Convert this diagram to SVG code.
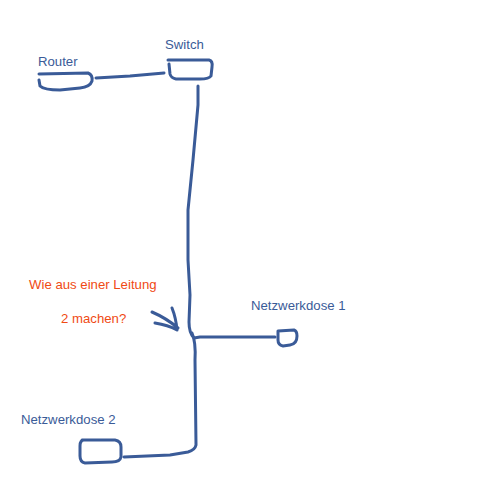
<svg xmlns="http://www.w3.org/2000/svg" width="500" height="500" viewBox="0 0 500 500">
<style>
.s{fill:none;stroke:#3a5b98;stroke-width:3;stroke-linecap:round;stroke-linejoin:round}
.t{font-family:"Liberation Sans",Arial,sans-serif;font-size:13.2px;fill:#3a5b98}
.r{font-family:"Liberation Sans",Arial,sans-serif;font-size:13.2px;fill:#f04a14}
</style>
<rect width="500" height="500" fill="#fff"/>
<g id="router">
<path class="s" d="M39,74 L88,73 Q93,75 92,81 Q90,87 80,88 L60,90 Q44,90 40,86 L39,80"/>
<text class="t" x="38" y="66">Router</text>
</g>
<g id="switch">
<path class="s" d="M168,60 L209,60 Q213,61 212,67 L211,76 Q209,79 200,79 L176,79 Q171,78 170,74 L169,64"/>
<text class="t" x="165" y="49">Switch</text>
</g>
<g id="dose1">
<path class="s" d="M278,331 L294,330 Q297,331 297,336 Q297,344 290,345 L283,346 Q278,345 278,340 Z"/>
<text class="t" x="251" y="310">Netzwerkdose 1</text>
</g>
<g id="dose2">
<path class="s" d="M82,440 L115,440 Q121,441 121,447 L121,457 Q120,462 112,462 L85,463 Q80,462 80,456 L80,446 Q80,440 84,440"/>
<text class="t" x="21" y="424">Netzwerkdose 2</text>
</g>
<g id="question">
<text class="r" x="29" y="289">Wie aus einer Leitung</text>
<text class="r" x="61" y="323">2 machen?</text>
<path class="s" d="M152,312 Q166,318 178,328 M155,323 Q168,325 177,330 M172,308 Q176,318 177,330"/>
</g>
<g id="connectors">
<path class="s" d="M96,78 L130,76 L164,73"/>
<path class="s" d="M198,86 L198,105 L193,160 L191,180 L188,210 L188,260 L190,295 L189,322 Q189,333 194,338 L200,337 L275,337"/>
<path class="s" d="M192,333 Q196,342 195,360 L196,445 Q195,450 188,452 L170,455 L124,457"/>
</g>
</svg>
